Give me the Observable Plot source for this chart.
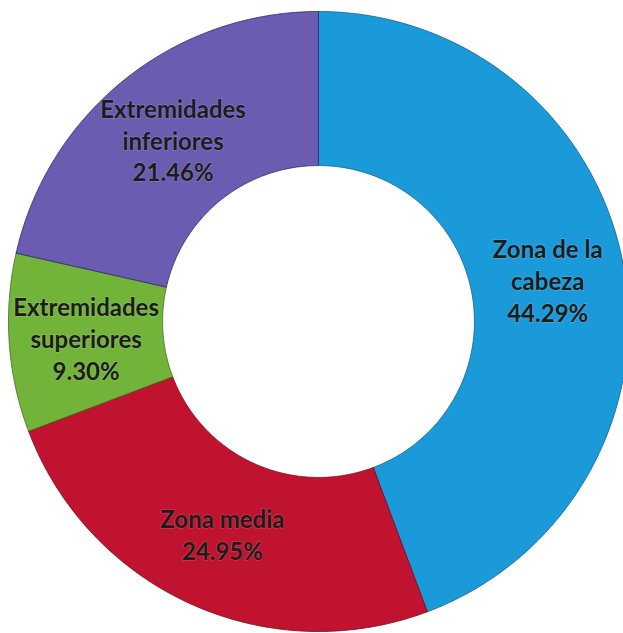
<!DOCTYPE html>
<html>
<head>
<meta charset="utf-8">
<script src="https://cdn.jsdelivr.net/npm/d3@7"></script>
<script src="https://cdn.jsdelivr.net/npm/@observablehq/plot@0.6"></script>
<style>
  html, body { margin: 0; padding: 0; background: #fff; overflow: hidden; }
  #chart { width: 623px; height: 633px; }
</style>
</head>
<body>
<div id="chart"></div>
<script>
// Data (clockwise from 12 o'clock)
const categories = ["Zona de la cabeza", "Zona media", "Extremidades superiores", "Extremidades inferiores"];
const labelLines = ["Zona de la\ncabeza", "Zona media", "Extremidades\nsuperiores", "Extremidades\ninferiores"];
const values = [44.29, 24.95, 9.30, 21.46];
const colors = ["#1a9ad8", "#c0132f", "#72b43a", "#6a5cb0"];
const strokes = ["#0f5f8f", "#7a0a1c", "#3f6e1c", "#2e2670"];

// Geometry in data units (outer radius = 1)
const outerR = 1;
const innerR = 0.503;
const total = d3.sum(values);

const slices = [];
const labels = [];
let acc = 0;
values.forEach((v, i) => {
  const a0 = acc / total * 2 * Math.PI;
  acc += v;
  const a1 = acc / total * 2 * Math.PI;
  const n = Math.max(8, Math.ceil((a1 - a0) / (Math.PI / 360)));
  const pts = [];
  for (let k = 0; k <= n; k++) {
    const a = a0 + (a1 - a0) * k / n;
    pts.push({x: outerR * Math.sin(a), y: outerR * Math.cos(a)});
  }
  for (let k = n; k >= 0; k--) {
    const a = a0 + (a1 - a0) * k / n;
    pts.push({x: innerR * Math.sin(a), y: innerR * Math.cos(a)});
  }
  pts.push(pts[0]);
  pts.forEach(p => slices.push({...p, cat: categories[i]}));
  const am = (a0 + a1) / 2;
  const rm = (outerR + innerR) / 2;
  labels.push({
    x: rm * Math.sin(am),
    y: rm * Math.cos(am),
    text: labelLines[i] + "\n" + v.toFixed(2) + "%"
  });
});

const W = 623, H = 633;
const cx = 318, cy = 321, Rpx = 310;

const chart = Plot.plot({
  width: W,
  height: H,
  margin: 0,
  style: {background: "#fff", overflow: "hidden"},
  x: {domain: [(0 - cx) / Rpx, (W - cx) / Rpx], axis: null},
  y: {domain: [-(H - cy) / Rpx, cy / Rpx], axis: null},
  color: {domain: categories, range: colors},
  marks: [
    Plot.line(slices, {
      x: "x", y: "y", z: "cat",
      fill: "cat",
      stroke: d => strokes[categories.indexOf(d.cat)],
      strokeWidth: 1,
      strokeOpacity: 0.8,
      curve: "linear",
      clip: true
    }),
    Plot.text(labels, {
      x: "x", y: "y", text: "text",
      fontSize: 24,
      fontWeight: "bold",
      fontFamily: "Lato, 'Open Sans', sans-serif",
      lineHeight: 1.32,
      fill: "#1c1c1c",
      stroke: "rgba(255,255,255,0.18)",
      strokeWidth: 1.5,
      textAnchor: "middle"
    })
  ]
});

document.getElementById("chart").appendChild(chart);
</script>
</body>
</html>
